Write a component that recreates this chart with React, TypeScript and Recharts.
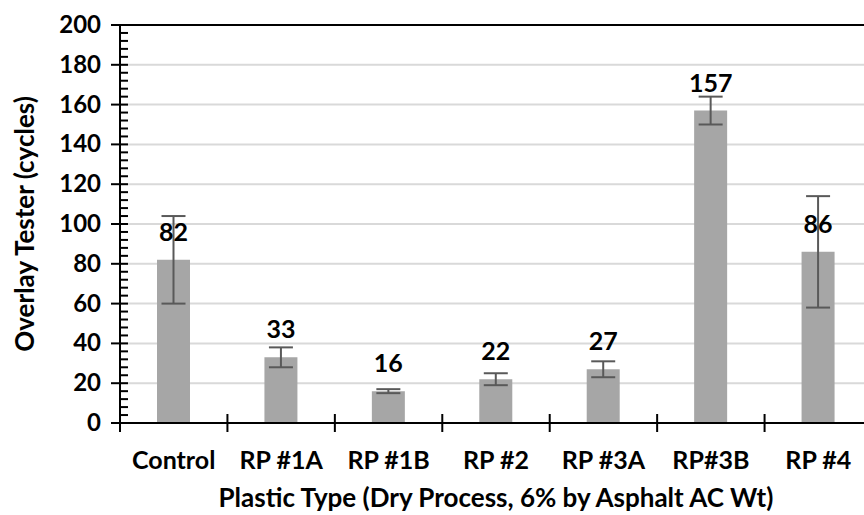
import { Bar, BarChart, CartesianGrid, ErrorBar, LabelList, ReferenceLine, XAxis, YAxis } from "recharts";

const categories = ["Control", "RP #1A", "RP #1B", "RP #2", "RP #3A", "RP#3B", "RP #4"];
const cycles = [82, 33, 16, 22, 27, 157, 86];
const errors = [22, 5, 1, 3, 4, 7, 28];
const allTicks = [0, 4, 8, 12, 16, 20, 24, 28, 32, 36, 40, 44, 48, 52, 56, 60, 64, 68, 72, 76, 80, 84, 88, 92, 96, 100, 104, 108, 112, 116, 120, 124, 128, 132, 136, 140, 144, 148, 152, 156, 160, 164, 168, 172, 176, 180, 184, 188, 192, 196, 200];

const data = categories.map((name, i) => ({ name, value: cycles[i], err: errors[i] }));

const font = "Lato, 'Open Sans', sans-serif";
const W = 880;
const H = 515;
const LEFT = 120;
const RIGHT = 8;
const band = (W - LEFT - RIGHT) / categories.length;

function YTick({ y, payload }: any) {
  const major = payload.value % 20 === 0;
  return (
    <g>
      <line x1={major ? LEFT - 9 : LEFT} x2={LEFT + 8} y1={y} y2={y} stroke="#000" strokeWidth={2} />
      {major && (
        <text x={LEFT - 19} y={y} dy={8} textAnchor="end" fontFamily={font} fontWeight={700} fontSize={24} fill="#000">
          {payload.value}
        </text>
      )}
    </g>
  );
}

function XTick({ x, payload }: any) {
  const left = x - band / 2;
  const axisY = 423;
  return (
    <g>
      <line x1={left} x2={left} y1={axisY - 9} y2={axisY + 9} stroke="#000" strokeWidth={2} />
      <text x={x} y={axisY + 46} textAnchor="middle" fontFamily={font} fontWeight={700} fontSize={25} fill="#000">
        {payload.value}
      </text>
    </g>
  );
}

export default function App() {
  return (
    <div style={{ position: "absolute", left: 0, top: 0, width: 864, height: 515, overflow: "hidden", background: "#fff" }}>
      <BarChart width={W} height={H} data={data} margin={{ top: 25, right: RIGHT, bottom: 0, left: 0 }} barCategoryGap={37}>
        <CartesianGrid horizontal vertical={false} horizontalValues={[20, 40, 60, 80, 100, 120, 140, 160, 180]} stroke="#d9d9d9" strokeWidth={2} />
        <XAxis
          dataKey="name"
          height={92}
          axisLine={{ stroke: "#000", strokeWidth: 2 }}
          tickLine={false}
          tick={<XTick />}
          interval={0}
          label={{ value: "Plastic Type (Dry Process, 6% by Asphalt AC Wt)", position: "insideBottom", offset: 8, fontFamily: font, fontWeight: 700, fontSize: 26, fill: "#000" }}
        />
        <YAxis
          width={LEFT}
          domain={[0, 200]}
          ticks={allTicks}
          interval={0}
          axisLine={{ stroke: "#000", strokeWidth: 2 }}
          tickLine={false}
          tick={<YTick />}
          tickSize={0}
          label={{ value: "Overlay Tester (cycles)", angle: -90, position: "insideLeft", dx: 20, fontFamily: font, fontWeight: 700, fontSize: 26, fill: "#000", style: { textAnchor: "middle" } }}
        />
        <ReferenceLine y={200} stroke="#000" strokeWidth={2} />
        <Bar dataKey="value" fill="#a6a6a6" isAnimationActive={false}>
          <ErrorBar dataKey="err" width={12} stroke="#595959" strokeWidth={2} />
          <LabelList dataKey="value" position="top" offset={19} fontFamily={font} fontWeight={700} fontSize={25} fill="#000" />
        </Bar>
      </BarChart>
    </div>
  );
}
